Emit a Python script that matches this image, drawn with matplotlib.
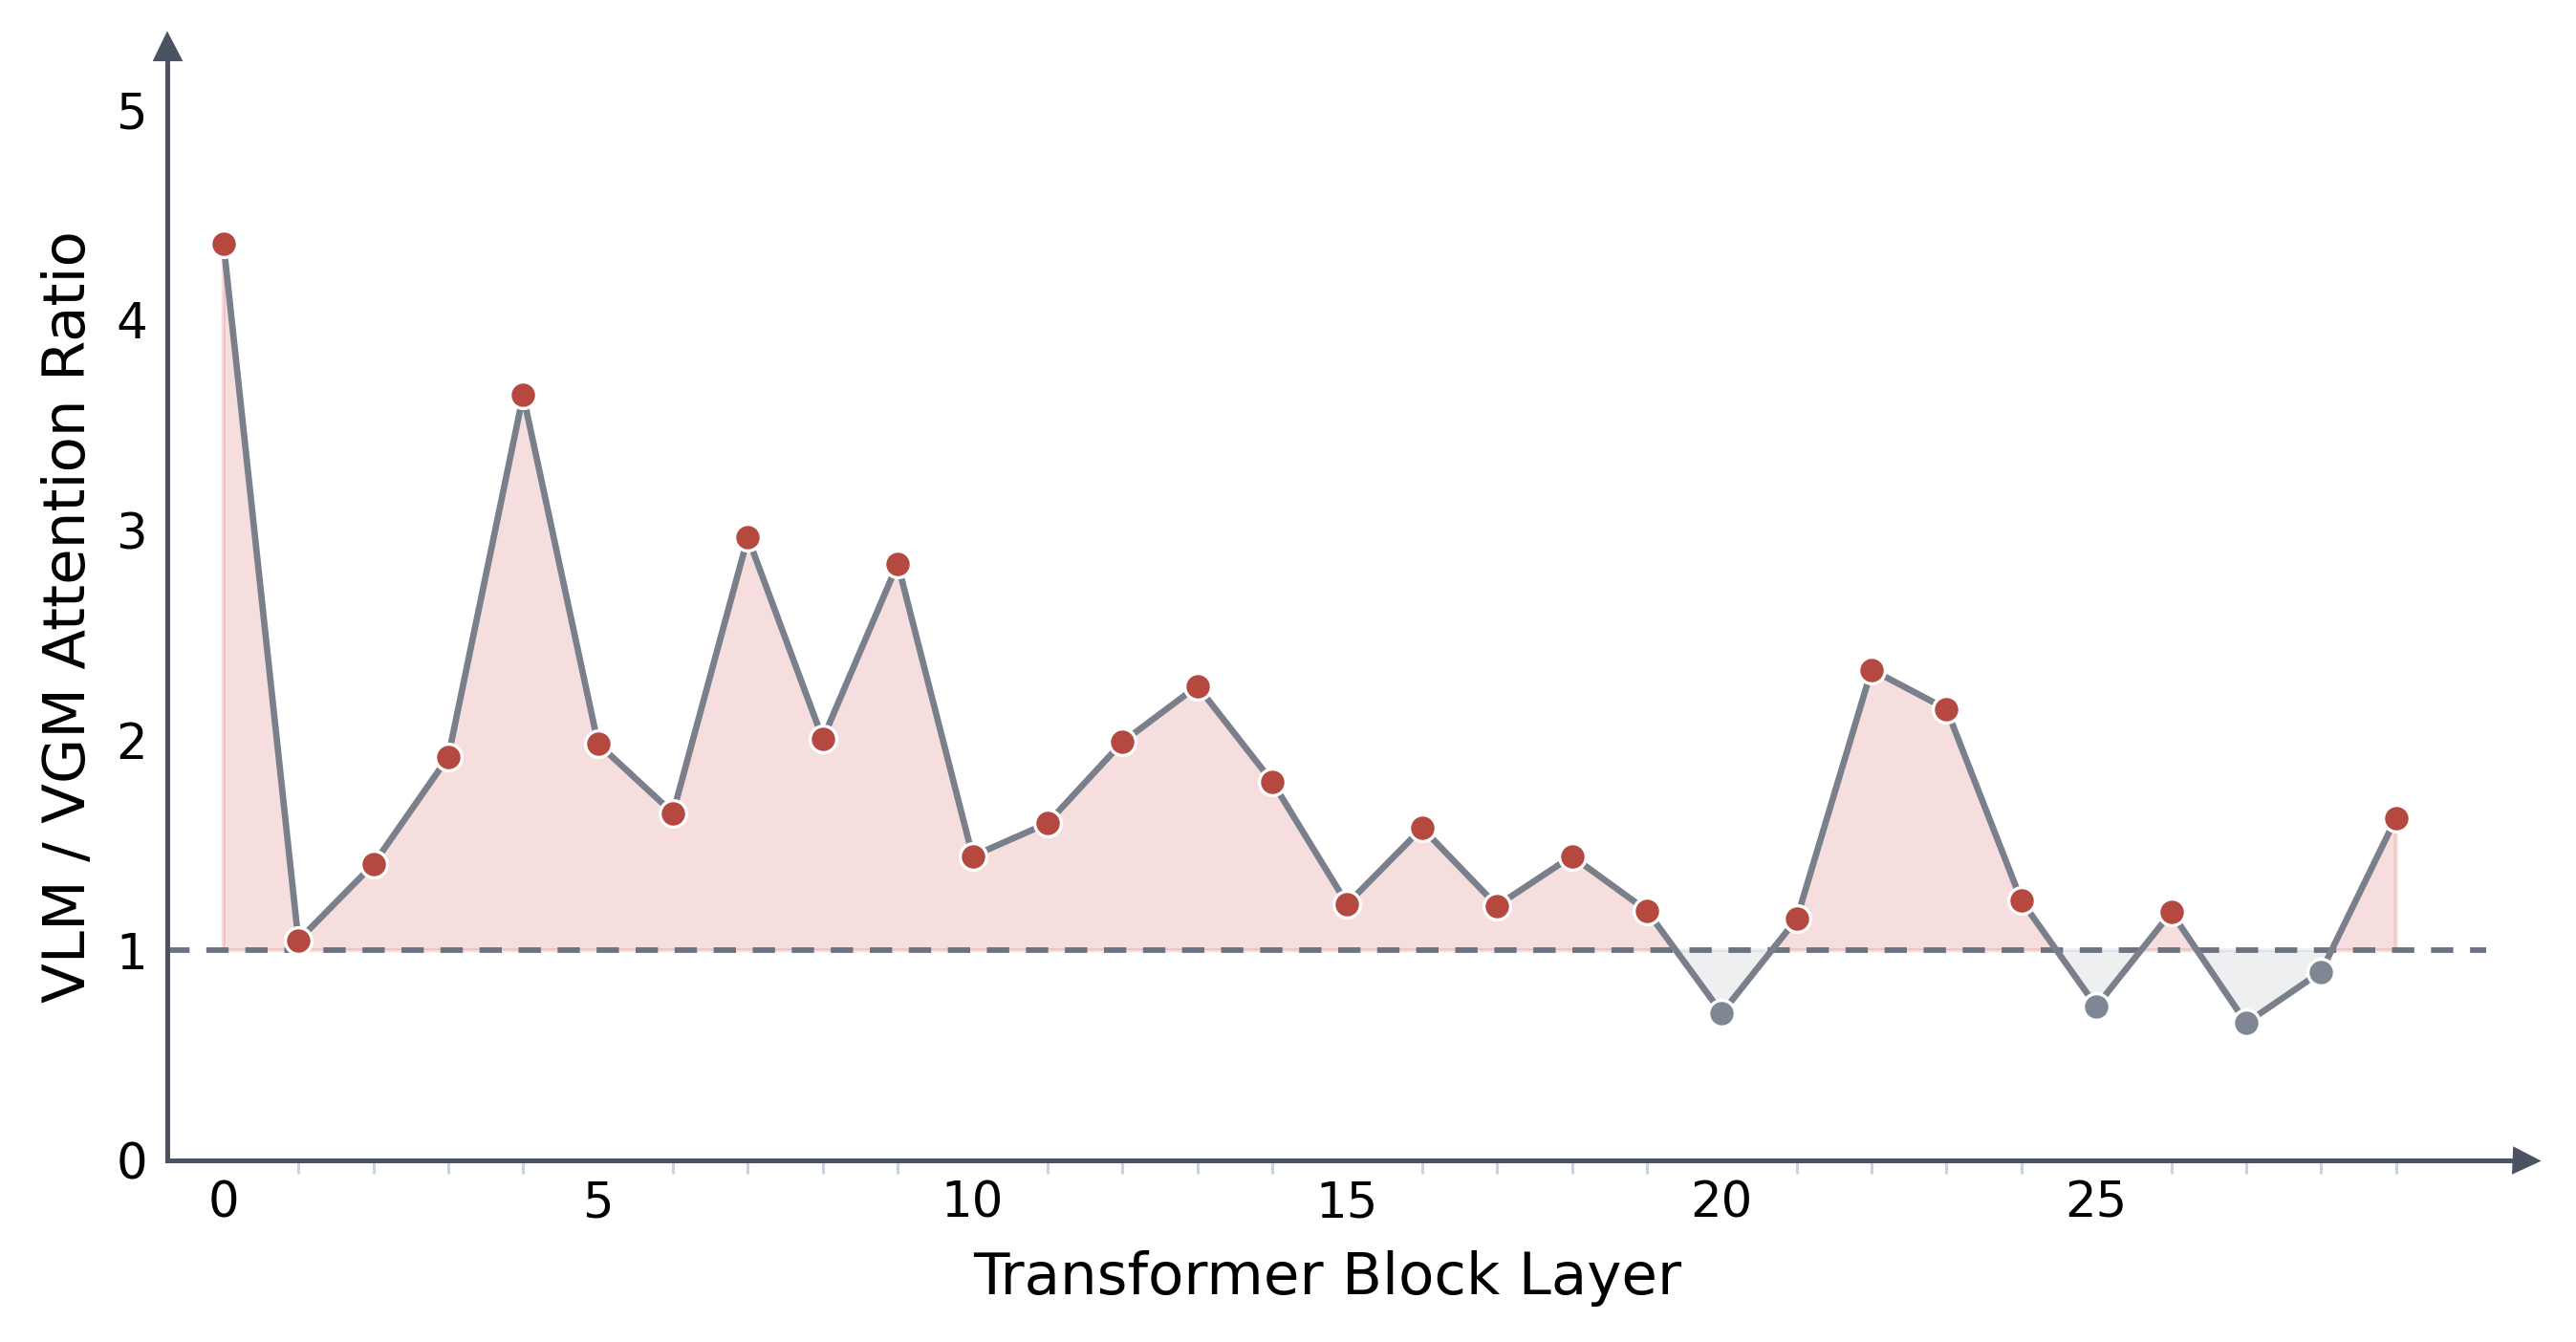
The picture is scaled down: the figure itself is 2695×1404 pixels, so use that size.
import numpy as np
import matplotlib
matplotlib.use("Agg")
import matplotlib.pyplot as plt

# ---- data ----
layers = list(range(30))
ratio = [4.365, 1.047, 1.409, 1.920, 3.642, 1.983, 1.653, 2.965, 2.006, 2.840,
         1.448, 1.605, 1.991, 2.258, 1.802, 1.220, 1.582, 1.212, 1.448, 1.189,
         0.701, 1.149, 2.336, 2.148, 1.236, 0.733, 1.181, 0.654, 0.898, 1.629]
baseline = 1.0
xtick_vals = [0, 5, 10, 15, 20, 25]
ytick_vals = [0, 1, 2, 3, 4, 5]
xlabel = "Transformer Block Layer"
ylabel = "VLM / VGM Attention Ratio"

# ---- style ----
AX_COL = "#4B5363"
LINE_COL = "#7A7F8C"
RED = "#B5483F"
GRAY_MK = "#7F8794"
FILL_RED = "#CD5C55"
DASH_COL = "#6B7280"
MINOR_COL = "#CBD2DB"

x = np.array(layers, dtype=float)
y = np.array(ratio, dtype=float)

fig = plt.figure(figsize=(13.475, 7.02), dpi=200)
ax = fig.add_axes([0.06494, 0.13533, 0.91521, 0.82977])

ax.set_xlim(-0.75, 30.72)
ax.set_ylim(0, 5.3)

# fills
ax.fill_between(x, y, baseline, where=y >= baseline, interpolate=True,
                color=FILL_RED, alpha=0.2, lw=1.5, zorder=1)
ax.fill_between(x, y, baseline, where=y < baseline, interpolate=True,
                color=LINE_COL, alpha=0.12, lw=1.5, zorder=1)

# baseline
ax.hlines(baseline, -0.75, 30.2, color=DASH_COL, lw=2.1,
          linestyles=(0, (4.0, 3.0)), zorder=2)

# line
ax.plot(x, y, color=LINE_COL, lw=2.4, zorder=3, solid_capstyle="round")

# markers
above = y >= baseline
ax.plot(x[above], y[above], 'o', ms=10, mfc=RED, mec="white", mew=1.2,
        zorder=4, ls="none")
ax.plot(x[~above], y[~above], 'o', ms=10, mfc=GRAY_MK, mec="white", mew=1.2,
        zorder=4, ls="none")

# spines
for s in ["top", "right"]:
    ax.spines[s].set_visible(False)
for s in ["left", "bottom"]:
    ax.spines[s].set_color(AX_COL)
    ax.spines[s].set_linewidth(1.8)

# arrows
ax.plot(1, 0, '>', transform=ax.transAxes, clip_on=False, ms=9,
        color=AX_COL, mec=AX_COL, mew=1, zorder=5)
ax.plot(0, 1, '^', transform=ax.transAxes, clip_on=False, ms=9,
        color=AX_COL, mec=AX_COL, mew=1.5, zorder=5)

# ticks
ax.set_xticks(xtick_vals)
ax.set_xticks(layers, minor=True)
ax.set_yticks(ytick_vals)
ax.tick_params(axis="x", which="major", length=0, pad=7.5, labelsize=18.5)
ax.tick_params(axis="x", which="minor", length=4.9, width=1.1, color=MINOR_COL)
ax.tick_params(axis="y", which="major", length=0, pad=7.5, labelsize=18.5)

ax.set_xlabel(xlabel, fontsize=22, labelpad=8.5)
ax.set_ylabel(ylabel, fontsize=22, labelpad=7)
ax.xaxis.label.set_x(0.492)
ax.yaxis.label.set_y(0.488)

fig.savefig("out.png", dpi=200)
